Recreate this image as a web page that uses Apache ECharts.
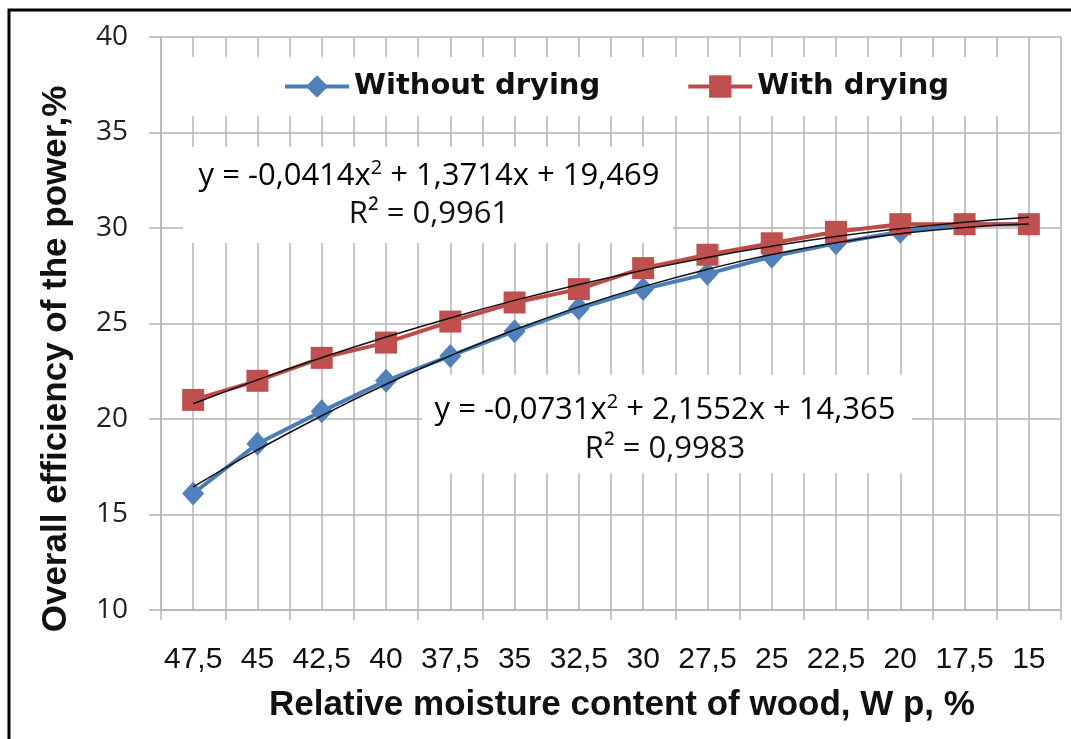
<!DOCTYPE html>
<html>
<head>
<meta charset="utf-8">
<script src="https://cdn.jsdelivr.net/npm/echarts@6/dist/echarts.min.js"></script>
<style>
  html, body { margin: 0; padding: 0; background: #fff; }
  #chart { width: 1071px; height: 739px; }
</style>
</head>
<body>
<div id="chart"></div>
<script>
// moisture content categories (x axis), %
var moisture = ['47,5', '45', '42,5', '40', '37,5', '35', '32,5', '30', '27,5', '25', '22,5', '20', '17,5', '15'];
// half-step cells, only used to draw the fine vertical grid
var halfCells = ['', '', '', '', '', '', '', '', '', '', '', '', '', '', '', '', '', '', '', '', '', '', '', '', '', '', '', ''];

var withoutDrying = [16.1, 18.7, 20.4, 22.0, 23.3, 24.6, 25.8, 26.8, 27.6, 28.5, 29.2, 29.8, 30.2, 30.2];
var withDrying    = [21.0, 22.0, 23.2, 24.0, 25.1, 26.1, 26.8, 27.9, 28.6, 29.2, 29.8, 30.2, 30.2, 30.2];

// polynomial trend lines as printed on the chart, read at each category
var trendWithout = [16.45, 18.38, 20.17, 21.82, 23.31, 24.67, 25.87, 26.93, 27.84, 28.61, 29.23, 29.70, 30.03, 30.21];
var trendWith    = [20.80, 22.05, 23.21, 24.29, 25.29, 26.21, 27.04, 27.79, 28.46, 29.04, 29.55, 29.96, 30.30, 30.56];

var yTicks = [10, 15, 20, 25, 30, 35, 40];

var gridCol = '#b4b4b4';
var arial = '"Liberation Sans", Arial, sans-serif';
var sans = '"Open Sans", "Noto Sans", sans-serif';

var eqRich = {
    a: { fontFamily: sans, fontSize: 31, color: '#111', lineHeight: 40 },
    s: { fontFamily: sans, fontSize: 20, color: '#111', lineHeight: 40, padding: [0, 0, 16, 0] }
};

var option = {
    backgroundColor: '#fff',
    animation: false,
    grid: { left: 161, right: 10, top: 37, bottom: 129 },
    legend: {
        data: ['Without drying', 'With drying'],
        left: 175,
        top: 57,
        padding: [15, 65, 15, 108],
        backgroundColor: '#fff',
        itemWidth: 64,
        itemHeight: 28,
        itemGap: 86,
        lineStyle: { width: 4 },
        textStyle: {
            fontFamily: '"DejaVu Sans", sans-serif',
            fontWeight: 'bold',
            fontSize: 29,
            color: '#111'
        }
    },
    xAxis: [
        {
            type: 'category',
            data: moisture,
            boundaryGap: true,
            axisLine: { lineStyle: { color: gridCol, width: 1.5 } },
            axisTick: { show: true, length: 10, interval: 0, lineStyle: { color: gridCol, width: 1.5 } },
            axisLabel: { interval: 0, margin: 35, fontFamily: arial, fontSize: 30, color: '#111' },
            splitLine: { show: false }
        },
        {
            type: 'category',
            data: halfCells,
            boundaryGap: true,
            position: 'bottom',
            axisLine: { show: false },
            axisTick: { show: false },
            axisLabel: { show: false },
            splitLine: { show: true, interval: 0, lineStyle: { color: gridCol, width: 1.5 } }
        }
    ],
    yAxis: {
        type: 'value',
        min: yTicks[0],
        max: yTicks[yTicks.length - 1],
        interval: 5,
        axisLine: { show: true, lineStyle: { color: gridCol, width: 1.5 } },
        axisTick: { show: true, length: 12, lineStyle: { color: gridCol, width: 1.5 } },
        axisLabel: { margin: 33, fontFamily: sans, fontSize: 28, color: '#222' },
        splitLine: { show: true, lineStyle: { color: gridCol, width: 1.5 } }
    },
    series: [
        {
            name: 'Without drying',
            type: 'line',
            data: withoutDrying,
            symbol: 'diamond',
            symbolSize: [22, 24],
            lineStyle: { color: '#4A7EBB', width: 4 },
            itemStyle: { color: '#4F81BD' },
            z: 3
        },
        {
            name: 'With drying',
            type: 'line',
            data: withDrying,
            symbol: 'rect',
            symbolSize: 22,
            lineStyle: { color: '#BE4B48', width: 4 },
            itemStyle: { color: '#C0504D' },
            z: 3
        },
        {
            name: 'trend without',
            type: 'line',
            data: trendWithout,
            smooth: true,
            symbol: 'none',
            lineStyle: { color: '#111', width: 1.5 },
            z: 5
        },
        {
            name: 'trend with',
            type: 'line',
            data: trendWith,
            smooth: true,
            symbol: 'none',
            lineStyle: { color: '#111', width: 1.5 },
            z: 5
        }
    ],
    graphic: [
        // equation boxes
        {
            type: 'rect', z: 1,
            shape: { x: 183, y: 147, width: 490, height: 96 },
            style: { fill: '#fff' }
        },
        {
            type: 'text', z: 1, x: 429, y: 176,
            style: {
                text: '{a|y = -0,0414x}{s|2}{a| + 1,3714x + 19,469}',
                rich: eqRich, align: 'center', verticalAlign: 'middle'
            }
        },
        {
            type: 'text', z: 1, x: 429, y: 214,
            style: { text: 'R² = 0,9961', fontFamily: sans, fontSize: 31, fill: '#111', align: 'center', verticalAlign: 'middle' }
        },
        {
            type: 'rect', z: 1,
            shape: { x: 422, y: 375, width: 490, height: 98 },
            style: { fill: '#fff' }
        },
        {
            type: 'text', z: 1, x: 665, y: 410,
            style: {
                text: '{a|y = -0,0731x}{s|2}{a| + 2,1552x + 14,365}',
                rich: eqRich, align: 'center', verticalAlign: 'middle'
            }
        },
        {
            type: 'text', z: 1, x: 665, y: 449,
            style: { text: 'R² = 0,9983', fontFamily: sans, fontSize: 31, fill: '#111', align: 'center', verticalAlign: 'middle' }
        },
        // axis titles
        {
            type: 'text', z: 10, x: 622, y: 705,
            style: {
                text: 'Relative moisture content of wood, W p, %',
                fontFamily: arial, fontWeight: 'bold', fontSize: 35, fill: '#111',
                align: 'center', verticalAlign: 'middle'
            }
        },
        {
            type: 'text', z: 10, x: 56, y: 359, rotation: Math.PI / 2,
            style: {
                text: 'Overall efficiency of the power,%',
                fontFamily: arial, fontWeight: 'bold', fontSize: 35, fill: '#111',
                align: 'center', verticalAlign: 'middle'
            }
        },
        // frame
        {
            type: 'polyline', z: 10,
            shape: { points: [[9, 760], [9, 10], [1090, 10]] },
            style: { stroke: '#000', lineWidth: 3, fill: null }
        }
    ]
};

var chart = echarts.init(document.getElementById('chart'));
chart.setOption(option);
</script>
</body>
</html>
